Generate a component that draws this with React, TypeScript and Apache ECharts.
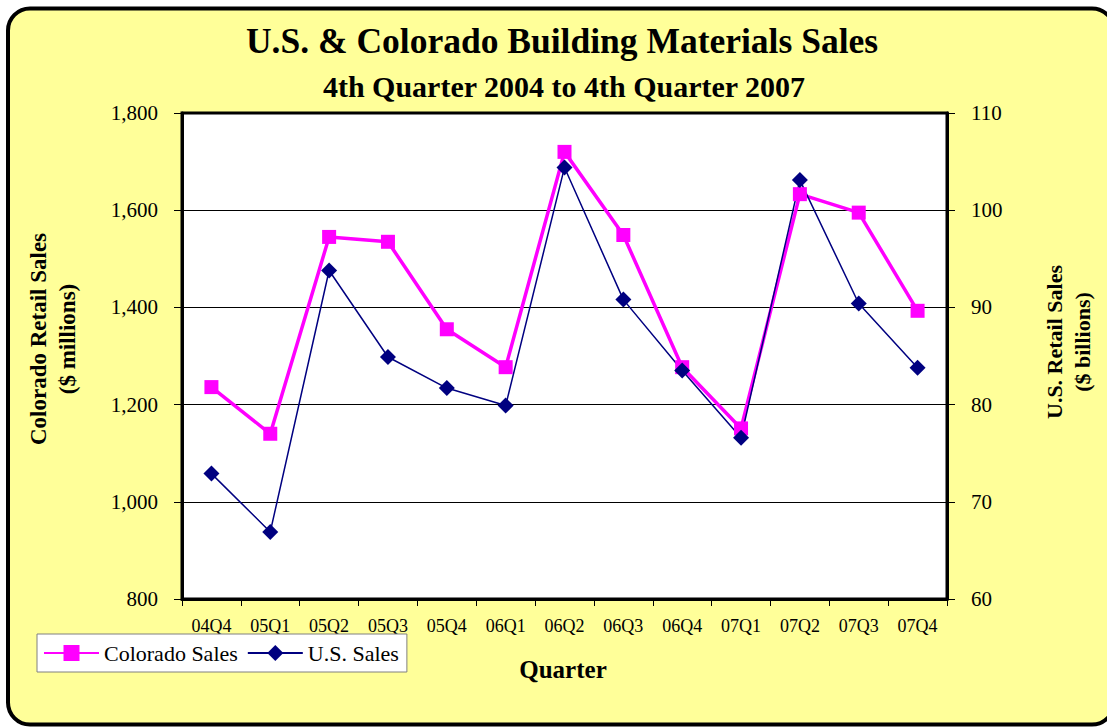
import React, { useEffect, useRef } from "react";
import * as echarts from "echarts";

const quarters = ["04Q4", "05Q1", "05Q2", "05Q3", "05Q4", "06Q1", "06Q2", "06Q3", "06Q4", "07Q1", "07Q2", "07Q3", "07Q4"];
const coloradoSales = [1236, 1140, 1545, 1535, 1355, 1277, 1720, 1549, 1277, 1151, 1633, 1595, 1393];
const usSales = [72.9, 66.9, 93.8, 84.9, 81.7, 79.9, 104.4, 90.8, 83.5, 76.6, 103.1, 90.4, 83.8];

const titleText = "U.S. & Colorado Building Materials Sales";
const subtitleText = "4th Quarter 2004 to 4th Quarter 2007";
const leftAxisName = "Colorado Retail Sales\n($ millions)";
const rightAxisName = "U.S. Retail Sales\n($ billions)";
const xAxisName = "Quarter";

const FONT = "'Liberation Serif', 'Times New Roman', serif";

export default function App() {
  const ref = useRef<HTMLDivElement>(null);
  useEffect(() => {
    if (!ref.current) return;
    const chart = echarts.init(ref.current, undefined, { renderer: "svg" });
    chart.setOption({
      animation: false,
      textStyle: { fontFamily: FONT, color: "#000" },
      graphic: [
        {
          type: "rect",
          z: -100,
          shape: { x: 8, y: 8.5, width: 1106, height: 716, r: 22 },
          style: { fill: "#FFFF99", stroke: "#000", lineWidth: 4 },
        },
        {
          type: "text",
          x: 562,
          y: 41,
          style: { text: titleText, font: `bold 35.5px ${FONT}`, fill: "#000", align: "center", verticalAlign: "middle" },
        },
        {
          type: "text",
          x: 564,
          y: 86,
          style: { text: subtitleText, font: `bold 30px ${FONT}`, fill: "#000", align: "center", verticalAlign: "middle" },
        },
        {
          type: "text",
          x: 53,
          y: 339,
          rotation: Math.PI / 2,
          style: { text: leftAxisName, font: `bold 23px ${FONT}`, fill: "#000", align: "center", verticalAlign: "middle", lineHeight: 29 },
        },
        {
          type: "text",
          x: 1068,
          y: 342,
          rotation: Math.PI / 2,
          style: { text: rightAxisName, font: `bold 22px ${FONT}`, fill: "#000", align: "center", verticalAlign: "middle", lineHeight: 28 },
        },
        {
          type: "text",
          x: 563,
          y: 669,
          style: { text: xAxisName, font: `bold 25px ${FONT}`, fill: "#000", align: "center", verticalAlign: "middle" },
        },
      ],
      legend: {
        left: 37,
        top: 634,
        orient: "horizontal",
        backgroundColor: "#fff",
        borderColor: "#808080",
        borderWidth: 1,
        borderRadius: 0,
        padding: [8, 8, 8, 6],
        itemWidth: 55,
        itemHeight: 20,
        itemGap: 9,
        textStyle: { fontFamily: FONT, fontSize: 22, color: "#000" },
        data: ["Colorado Sales", "U.S. Sales"],
      },
      grid: {
        left: 182,
        right: 160,
        top: 113,
        bottom: 129,
        show: true,
        backgroundColor: "#fff",
        borderColor: "#000",
        borderWidth: 3,
        containLabel: false,
      },
      xAxis: {
        type: "category",
        data: quarters,
        boundaryGap: true,
        axisLine: { show: true, lineStyle: { color: "#000", width: 3 } },
        axisTick: { show: true, length: 7, inside: false, lineStyle: { color: "#000", width: 1 } },
        axisLabel: { interval: 0, fontSize: 18, color: "#000", margin: 18, fontFamily: FONT },
        splitLine: { show: false },
      },
      yAxis: [
        {
          type: "value",
          position: "left",
          min: 800,
          max: 1800,
          interval: 200,
          axisLine: { show: true, lineStyle: { color: "#000", width: 3 } },
          axisTick: { show: true, length: 8, lineStyle: { color: "#000", width: 1 } },
          axisLabel: {
            fontSize: 21,
            color: "#000",
            margin: 24,
            fontFamily: FONT,
            formatter: (v: number) => v.toLocaleString("en-US"),
          },
          splitLine: { show: true, lineStyle: { color: "#000", width: 1 } },
        },
        {
          type: "value",
          position: "right",
          min: 60,
          max: 110,
          interval: 10,
          axisLine: { show: true, lineStyle: { color: "#000", width: 3 } },
          axisTick: { show: true, length: 8, lineStyle: { color: "#000", width: 1 } },
          axisLabel: { fontSize: 21, color: "#000", margin: 24, fontFamily: FONT },
          splitLine: { show: false },
        },
      ],
      series: [
        {
          name: "Colorado Sales",
          type: "line",
          yAxisIndex: 0,
          data: coloradoSales,
          color: "#FF00FF",
          symbol: "rect",
          symbolSize: 14,
          lineStyle: { color: "#FF00FF", width: 3.5 },
          itemStyle: { color: "#FF00FF" },
        },
        {
          name: "U.S. Sales",
          type: "line",
          yAxisIndex: 1,
          data: usSales,
          color: "#000080",
          symbol: "diamond",
          symbolSize: 16,
          lineStyle: { color: "#000080", width: 1.5 },
          itemStyle: { color: "#000080" },
        },
      ],
    });
    return () => chart.dispose();
  }, []);
  return (
    <div
      ref={ref}
      style={{ position: "absolute", left: 0, top: 0, width: 1107, height: 728, background: "#fff" }}
    />
  );
}
